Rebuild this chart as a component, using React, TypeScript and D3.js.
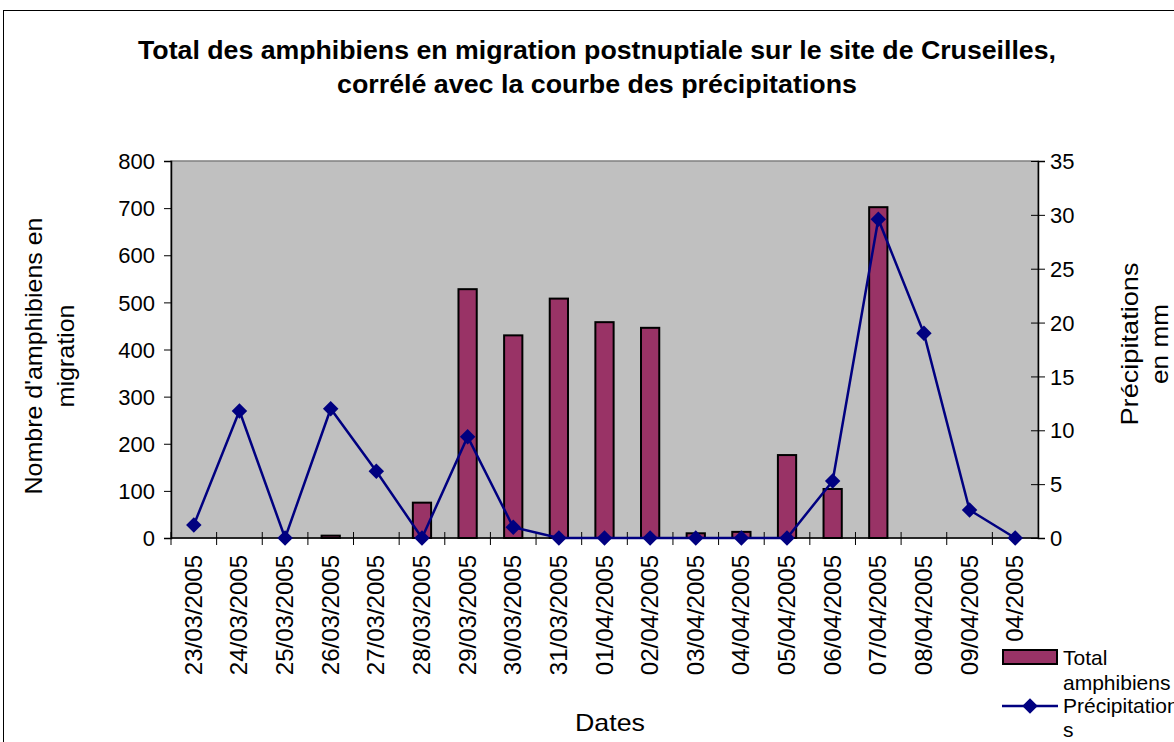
import React, { useEffect, useRef } from 'react';
import * as d3 from 'd3';

const dates = [
  '23/03/2005', '24/03/2005', '25/03/2005', '26/03/2005', '27/03/2005', '28/03/2005',
  '29/03/2005', '30/03/2005', '31/03/2005', '01/04/2005', '02/04/2005', '03/04/2005',
  '04/04/2005', '05/04/2005', '06/04/2005', '07/04/2005', '08/04/2005', '09/04/2005', '04/2005',
];
const amphibians = [0, 0, 0, 5, 0, 75, 528, 430, 508, 458, 446, 10, 13, 176, 104, 702, 0, 0, 0];
const precipitation = [1.2, 11.8, 0, 12, 6.2, 0, 9.4, 1.0, 0, 0, 0, 0, 0, 0, 5.3, 29.6, 19.0, 2.6, 0];
const leftTicks = [0, 100, 200, 300, 400, 500, 600, 700, 800];
const rightTicks = [0, 5, 10, 15, 20, 25, 30, 35];

const FONT = "'Liberation Sans', Arial, sans-serif";

export default function App() {
  const svgRef = useRef<SVGSVGElement>(null);

  useEffect(() => {
    if (!svgRef.current) return;
    const width = 1174;
    const height = 742;
    const margin = { top: 161, right: 136, bottom: 204, left: 171 };

    const svg = d3.select(svgRef.current);
    svg.selectAll('*').remove();

    // outer chart frame
    svg.append('rect')
      .attr('x', 3.5).attr('y', 10.5)
      .attr('width', width + 10).attr('height', height + 10)
      .attr('fill', 'white').attr('stroke', 'black').attr('stroke-width', 1);

    const x = d3.scaleBand()
      .domain(dates)
      .range([margin.left, width - margin.right]);
    const yL = d3.scaleLinear().domain([0, 800]).range([height - margin.bottom, margin.top]);
    const yR = d3.scaleLinear().domain([0, 35]).range([height - margin.bottom, margin.top]);

    const x0 = margin.left, x1 = width - margin.right;
    const y0 = height - margin.bottom, y1 = margin.top;

    // plot area
    svg.append('rect')
      .attr('x', x0).attr('y', y1)
      .attr('width', x1 - x0).attr('height', y0 - y1)
      .attr('fill', '#C0C0C0').attr('stroke', '#808080').attr('stroke-width', 1.5);

    // bars
    const barW = x.bandwidth() * 0.4;
    svg.selectAll('rect.bar')
      .data(dates.map((d, i) => ({ d, v: amphibians[i] })).filter(o => o.v > 0))
      .enter()
      .append('rect')
      .attr('class', 'bar')
      .attr('x', o => x(o.d)! + x.bandwidth() / 2 - barW / 2)
      .attr('y', o => yL(o.v))
      .attr('width', barW)
      .attr('height', o => y0 - yL(o.v))
      .attr('fill', '#993366')
      .attr('stroke', 'black')
      .attr('stroke-width', 2);

    // left axis
    const left = svg.append('g')
      .attr('transform', `translate(${x0},0)`)
      .call(d3.axisLeft(yL).tickValues(leftTicks).tickSize(7).tickPadding(9));
    left.select('.domain').attr('stroke', 'black').attr('stroke-width', 1.5);
    left.selectAll('.tick line').attr('stroke', 'black');
    left.selectAll('text').style('font-family', FONT).style('font-size', '22px').attr('fill', 'black').attr('dy', '0.35em');

    // right axis
    const right = svg.append('g')
      .attr('transform', `translate(${x1},0)`)
      .call(d3.axisRight(yR).tickValues(rightTicks).tickSize(7).tickPadding(5));
    right.select('.domain').attr('stroke', 'black').attr('stroke-width', 1.5);
    right.selectAll('.tick line').attr('stroke', 'black').attr('x1', -7);
    right.selectAll('text').style('font-family', FONT).style('font-size', '22px').attr('fill', 'black').attr('dy', '0.35em');

    // bottom axis with ticks between categories
    svg.append('line')
      .attr('x1', x0).attr('x2', x1).attr('y1', y0).attr('y2', y0)
      .attr('stroke', 'black').attr('stroke-width', 1.5);
    svg.selectAll('line.xtick')
      .data(dates)
      .enter()
      .append('line')
      .attr('class', 'xtick')
      .attr('x1', d => x(d)!).attr('x2', d => x(d)!)
      .attr('y1', y0 - 6).attr('y2', y0 + 7)
      .attr('stroke', 'black');
    svg.selectAll('text.xlabel')
      .data(dates)
      .enter()
      .append('text')
      .attr('class', 'xlabel')
      .attr('transform', d => `translate(${x(d)! + x.bandwidth() / 2 + 8},${y0 + 17}) rotate(-90)`)
      .attr('text-anchor', 'end')
      .style('font-family', FONT)
      .style('font-size', '24px')
      .text(d => d);

    // precipitation line
    const cx = (i: number) => x(dates[i])! + x.bandwidth() / 2;
    const line = d3.line<number>()
      .x((_, i) => cx(i))
      .y(v => yR(v));
    svg.append('path')
      .datum(precipitation)
      .attr('d', line)
      .attr('fill', 'none')
      .attr('stroke', '#000080')
      .attr('stroke-width', 2.5);
    const diamond = d3.symbol().type(d3.symbolSquare).size(120);
    svg.selectAll('path.marker')
      .data(precipitation)
      .enter()
      .append('path')
      .attr('class', 'marker')
      .attr('d', diamond)
      .attr('transform', (v, i) => `translate(${cx(i)},${yR(v)}) rotate(45)`)
      .attr('fill', '#000080');

    // title
    const title = svg.append('text')
      .attr('text-anchor', 'middle')
      .style('font-family', FONT)
      .style('font-weight', 'bold')
      .style('font-size', '25px');
    title.append('tspan').attr('x', 597).attr('y', 59)
      .attr('textLength', 918).attr('lengthAdjust', 'spacingAndGlyphs')
      .text('Total des amphibiens en migration postnuptiale sur le site de Cruseilles,');
    title.append('tspan').attr('x', 597).attr('y', 93)
      .attr('textLength', 520).attr('lengthAdjust', 'spacingAndGlyphs')
      .text('corrélé avec la courbe des précipitations');

    // axis titles
    const yTitle = svg.append('text')
      .attr('transform', 'translate(0,356) rotate(-90)')
      .attr('text-anchor', 'middle')
      .style('font-family', FONT)
      .style('font-size', '24px');
    yTitle.append('tspan').attr('x', 0).attr('y', 42)
      .attr('textLength', 277).attr('lengthAdjust', 'spacingAndGlyphs')
      .text("Nombre d'amphibiens en");
    yTitle.append('tspan').attr('x', 0).attr('y', 74)
      .attr('textLength', 103).attr('lengthAdjust', 'spacingAndGlyphs')
      .text('migration');

    const rTitle = svg.append('text')
      .attr('transform', 'translate(0,344) rotate(-90)')
      .attr('text-anchor', 'middle')
      .style('font-family', FONT)
      .style('font-size', '24px');
    rTitle.append('tspan').attr('x', 0).attr('y', 1138)
      .attr('textLength', 163).attr('lengthAdjust', 'spacingAndGlyphs')
      .text('Précipitations');
    rTitle.append('tspan').attr('x', 0).attr('y', 1168)
      .attr('textLength', 80).attr('lengthAdjust', 'spacingAndGlyphs')
      .text('en mm');

    svg.append('text')
      .attr('x', 610).attr('y', 731)
      .attr('text-anchor', 'middle')
      .attr('textLength', 70).attr('lengthAdjust', 'spacingAndGlyphs')
      .style('font-family', FONT)
      .style('font-size', '24px')
      .text('Dates');

    // legend
    const lg = svg.append('g').style('font-family', FONT).style('font-size', '21px');
    lg.append('rect').attr('x', 1003).attr('y', 650).attr('width', 54).attr('height', 14)
      .attr('fill', '#993366').attr('stroke', 'black').attr('stroke-width', 2);
    lg.append('text').attr('x', 1063).attr('y', 665).text('Total');
    lg.append('text').attr('x', 1063).attr('y', 690).text('amphibiens');
    lg.append('line').attr('x1', 1002).attr('x2', 1058).attr('y1', 706).attr('y2', 706)
      .attr('stroke', '#000080').attr('stroke-width', 2.5);
    lg.append('path').attr('d', diamond).attr('transform', 'translate(1030,706) rotate(45)').attr('fill', '#000080');
    lg.append('text').attr('x', 1063).attr('y', 713).text('Précipitation');
    lg.append('text').attr('x', 1063).attr('y', 737).text('s');
  }, []);

  return (
    <svg
      ref={svgRef}
      width={1174}
      height={742}
      style={{ position: 'absolute', left: 0, top: 0, display: 'block', background: 'white' }}
    />
  );
}
